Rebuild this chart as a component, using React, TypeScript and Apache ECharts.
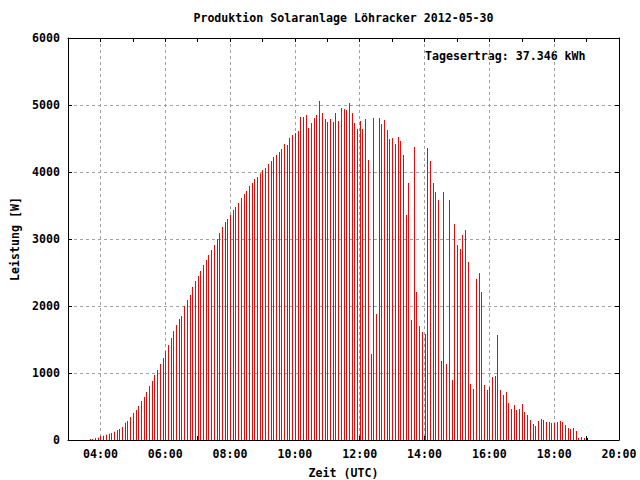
import React, { useEffect, useRef } from "react";
import * as echarts from "echarts";

// ---- texts ----
const TITLE = "Produktion Solaranlage Löhracker 2012-05-30";
const YIELD_LABEL = "Tagesertrag: 37.346 kWh";
const X_NAME = "Zeit (UTC)";
const Y_NAME = "Leistung [W]";

// ---- sampling (5-minute readings) ----
const FIRST_SAMPLE = "03:40";
const SAMPLE_STEP_MIN = 5;

// ---- power readings [W] ----
// 03:40 .. 08:50
const powerMorning = [
  15, 15, 30, 35, 60, 65, 80, 95, 105, 124,
  149, 164, 194, 259, 284, 343, 403, 448, 507, 582,
  642, 716, 806, 881, 970, 1045, 1134, 1224, 1328, 1418,
  1522, 1627, 1716, 1806, 1851, 2000, 2090, 2164, 2284, 2373,
  2448, 2522, 2612, 2687, 2761, 2836, 2910, 3000, 3090, 3179,
  3254, 3298, 3358, 3433, 3478, 3537, 3612, 3672, 3716, 3791,
  3836, 3895, 3925,
];
// 08:55 .. 15:00
const powerMidday = [
  3980, 4030, 4060, 4119, 4164, 4224, 4254, 4298, 4343, 4418,
  4403, 4507, 4552, 4582, 4612, 4821, 4821, 4851, 4657, 4731,
  4806, 4851, 5060, 4880, 4791, 4746, 4791, 4746, 4880, 4761,
  4955, 4940, 4925, 5030, 4880, 4731, 4642, 4761, 4642, 4791,
  4179, 1284, 4806, 1881, 4806, 4716, 4776, 4627, 4492, 4507,
  4418, 4522, 4463, 4254, 3358, 3836, 1791, 4373, 2209, 1701,
  1612, 1582, 4358, 4164, 3836, 3701, 3582, 1179, 3701, 1134,
  3582, 896, 3224, 2910,
];
// 15:05 .. 19:00
const powerAfternoon = [
  2851, 3060, 3134, 2657, 836, 761, 2403, 2492, 2209, 821,
  746, 791, 940, 955, 1567, 746, 672, 716, 552, 463,
  522, 448, 463, 537, 418, 373, 299, 239, 209, 284,
  313, 299, 269, 269, 254, 254, 269, 284, 269, 224,
  179, 164, 179, 134, 30, 45, 30, 30,
];

// ---- axes ----
const X_MIN_HOUR = 3;
const X_MAX_HOUR = 20;
const X_STEP_HOUR = 1;
const Y_MIN = 0;
const Y_MAX = 6000;
const Y_STEP = 1000;

const FONT = "'DejaVu Sans Mono', 'Liberation Mono', monospace";
const FONT_SIZE = 11.6;
const GRID_COLOR = "#a0a0a0";
const BAR_COLOR = "#ff0000";
const LAST_BAR_COLOR = "#000000";

function parseHour(s: string): number {
  const [h, m] = s.split(":").map(Number);
  return h + m / 60;
}

export default function App() {
  const ref = useRef<HTMLDivElement>(null);

  useEffect(() => {
    if (!ref.current) return;
    const chart = echarts.init(ref.current, undefined, { renderer: "svg" });

    const power = [...powerMorning, ...powerMidday, ...powerAfternoon];
    const start = parseHour(FIRST_SAMPLE);
    const data = power.map((v, i) => [start + (i * SAMPLE_STEP_MIN) / 60, v]);
    const lastIndex = power.length - 1;

    const textStyle = {
      fontFamily: FONT,
      fontSize: FONT_SIZE,
      fontWeight: "bold" as const,
      color: "#000",
    };

    const axisLine = { show: true, onZero: false, lineStyle: { color: "#000", width: 1 } };
    const axisTick = { show: true, inside: true, length: 4, lineStyle: { color: "#000" } };

    chart.setOption({
      animation: false,
      backgroundColor: "#ffffff",
      grid: {
        left: 68,
        right: 21,
        top: 38,
        bottom: 40,
        containLabel: false,
        outerBoundsMode: "none",
      },
      graphic: [
        {
          type: "text",
          x: 343.5,
          y: 18,
          style: {
            text: TITLE,
            ...textStyle,
            fill: "#000",
            textAlign: "center",
            textVerticalAlign: "middle",
          },
        },
        {
          type: "text",
          x: 425,
          y: 56,
          style: {
            text: YIELD_LABEL,
            ...textStyle,
            fill: "#000",
            textAlign: "left",
            textVerticalAlign: "middle",
          },
        },
      ],
      xAxis: [
        {
          type: "value",
          position: "bottom",
          min: X_MIN_HOUR,
          max: X_MAX_HOUR,
          interval: X_STEP_HOUR,
          name: X_NAME,
          nameLocation: "middle",
          nameGap: 27,
          nameTextStyle: { ...textStyle },
          axisLine,
          axisTick,
          axisLabel: {
            ...textStyle,
            margin: 8,
            formatter: (v: number) =>
              Math.round(v) % 2 === 0 ? `${String(Math.round(v)).padStart(2, "0")}:00` : "",
          },
          splitLine: {
            show: true,
            lineStyle: { color: ["rgba(0,0,0,0)", GRID_COLOR], type: [3, 3], width: 1 },
          },
        },
        {
          type: "value",
          position: "top",
          min: X_MIN_HOUR,
          max: X_MAX_HOUR,
          interval: X_STEP_HOUR,
          axisLine,
          axisTick,
          axisLabel: { show: false },
          splitLine: { show: false },
        },
      ],
      yAxis: [
        {
          type: "value",
          position: "left",
          min: Y_MIN,
          max: Y_MAX,
          interval: Y_STEP,
          name: Y_NAME,
          nameLocation: "middle",
          nameGap: 45,
          nameTextStyle: { ...textStyle },
          axisLine,
          axisTick,
          axisLabel: { ...textStyle, margin: 8, formatter: (v: number) => String(v) },
          splitLine: {
            show: true,
            lineStyle: { color: GRID_COLOR, type: [3, 3], width: 1 },
          },
        },
        {
          type: "value",
          position: "right",
          min: Y_MIN,
          max: Y_MAX,
          interval: Y_STEP,
          axisLine,
          axisTick,
          axisLabel: { show: false },
          splitLine: { show: false },
        },
      ],
      series: [
        {
          type: "custom",
          xAxisIndex: 0,
          yAxisIndex: 0,
          encode: { x: 0, y: 1 },
          data,
          renderItem: (params: any, api: any) => {
            const t = api.value(0);
            const v = api.value(1);
            const top = api.coord([t, v]);
            const base = api.coord([t, 0]);
            const x = Math.round(top[0]) + 0.5;
            return {
              type: "line",
              shape: { x1: x, y1: base[1], x2: x, y2: top[1] },
              style: {
                stroke: params.dataIndex === lastIndex ? LAST_BAR_COLOR : BAR_COLOR,
                lineWidth: 1,
              },
            };
          },
        },
      ],
    });

    return () => chart.dispose();
  }, []);

  return (
    <div
      ref={ref}
      style={{ position: "fixed", left: 0, top: 0, width: 640, height: 480 }}
    />
  );
}
